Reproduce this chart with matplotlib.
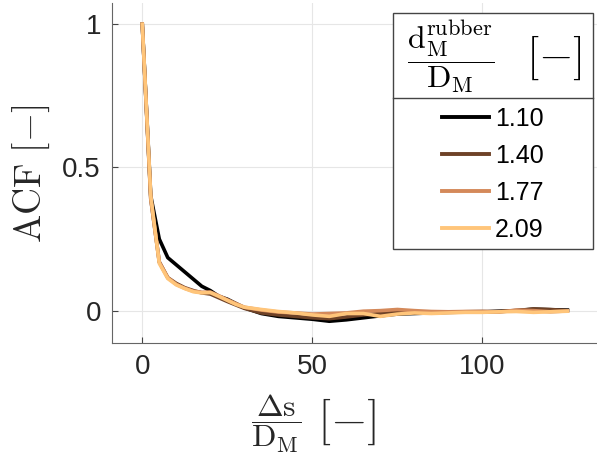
import numpy as np
import matplotlib.pyplot as plt
from matplotlib.patches import Rectangle
from matplotlib.lines import Line2D

# lag in units of D_M
lag = [0, 2.5, 5, 7.5, 10, 12.5, 15, 17.5, 20, 22.5, 25, 27.5, 30,
       35, 40, 45, 50, 55, 60, 65, 70, 75, 80, 85, 90, 95, 100,
       105, 110, 115, 120, 125]

acf_110 = [1.0, 0.40, 0.25, 0.185, 0.16, 0.135, 0.11, 0.085, 0.07, 0.05, 0.04, 0.025, 0.01,
           -0.01, -0.02, -0.025, -0.03, -0.037, -0.032, -0.025, -0.018, -0.012, -0.01, -0.008,
           -0.006, -0.005, -0.005, -0.002, 0.0, 0.005, 0.003, 0.002]
acf_140 = [1.0, 0.39, 0.17, 0.115, 0.095, 0.08, 0.07, 0.062, 0.058, 0.045, 0.032, 0.02, 0.008,
           -0.008, -0.015, -0.02, -0.025, -0.028, -0.022, -0.015, -0.01, -0.006, -0.008, -0.006,
           -0.005, -0.004, -0.003, -0.003, 0.0, 0.006, 0.004, 0.0]
acf_177 = [1.0, 0.39, 0.17, 0.115, 0.092, 0.078, 0.068, 0.064, 0.065, 0.052, 0.038, 0.025, 0.012,
           0.002, -0.005, -0.008, -0.012, -0.01, -0.008, -0.002, 0.0, 0.004, 0.0, -0.003,
           -0.004, -0.003, -0.003, -0.005, 0.002, 0.0, -0.004, -0.001]
acf_209 = [1.0, 0.40, 0.165, 0.112, 0.09, 0.077, 0.066, 0.062, 0.063, 0.05, 0.036, 0.022, 0.012,
           0.004, -0.003, -0.008, -0.015, -0.02, -0.01, -0.01, -0.02, -0.012, -0.008, -0.01,
           -0.008, -0.006, -0.006, -0.004, -0.003, -0.006, -0.004, -0.002]

series = [acf_110, acf_140, acf_177, acf_209]
ratio_labels = ['1.10', '1.40', '1.77', '2.09']
colors = ['#000000', '#6e4227', '#d4895a', '#ffc57a']

plt.rcParams['mathtext.fontset'] = 'cm'
plt.rcParams['font.family'] = 'Liberation Sans'

W, H = 597, 463
fig = plt.figure(figsize=(W / 100, H / 100), dpi=100)


def fx(x):
    return x / W


def fy(y):
    return 1 - y / H


ax = fig.add_axes([fx(112), fy(343), fx(597) - fx(112), fy(3) - fy(343)])

for vals, c in zip(series, colors):
    ax.plot(lag, vals, color=c, lw=2.6, solid_joinstyle='round')

ax.set_xlim(-8.9, 133.7)
ax.set_ylim(-0.113, 1.074)
ax.set_xticks([0, 50, 100])
ax.set_yticks([0, 0.5, 1])
ax.set_yticklabels(['0', '0.5', '1'])
ax.grid(True, color='#e6e6e6', lw=0.8)
ax.set_axisbelow(True)
for s in ['top', 'right']:
    ax.spines[s].set_visible(False)
for s in ['left', 'bottom']:
    ax.spines[s].set_color('#666666')
ax.tick_params(direction='in', length=4, color='#444444', labelsize=20,
               labelcolor='#262626', pad=8)

# axis labels (serif, latex-like)
fig.text(fx(31), fy(174), r'$\mathrm{ACF}\ [-]$', rotation=90, fontsize=27,
         ha='center', va='center', color='#262626')
fig.text(fx(276), fy(424), r'$\dfrac{\Delta\mathrm{s}}{\mathrm{D_M}}$', fontsize=23,
         ha='center', va='center', color='#262626')
fig.text(fx(347), fy(422), r'$[-]$', fontsize=34, ha='center', va='center', color='#262626')

# legend box with title
box = Rectangle((fx(393), fy(249)), fx(593) - fx(393), fy(13) - fy(249),
                transform=fig.transFigure, facecolor='white', edgecolor='#444444',
                lw=1, zorder=5)
fig.patches.append(box)
fig.add_artist(Line2D([fx(393), fx(593)], [fy(98), fy(98)], color='#444444', lw=1,
                      transform=fig.transFigure, zorder=6))
fig.text(fx(451), fy(57), r'$\dfrac{\mathrm{d_M^{rubber}}}{\mathrm{D_M}}$', fontsize=23,
         ha='center', va='center', zorder=7)
fig.text(fx(554), fy(58), r'$[-]$', fontsize=32, ha='center', va='center', zorder=7)

handles = [Line2D([], [], color=c, lw=2.8) for c in colors]
leg = fig.legend(handles, ratio_labels, loc='center',
                 bbox_to_anchor=(fx(393), fy(251), fx(593) - fx(393), fy(98) - fy(251)),
                 bbox_transform=fig.transFigure, frameon=False, fontsize=18,
                 handlelength=1.85, handletextpad=0.25, labelspacing=0.52)
leg.set_zorder(8)

fig.savefig('out.png', dpi=100)
